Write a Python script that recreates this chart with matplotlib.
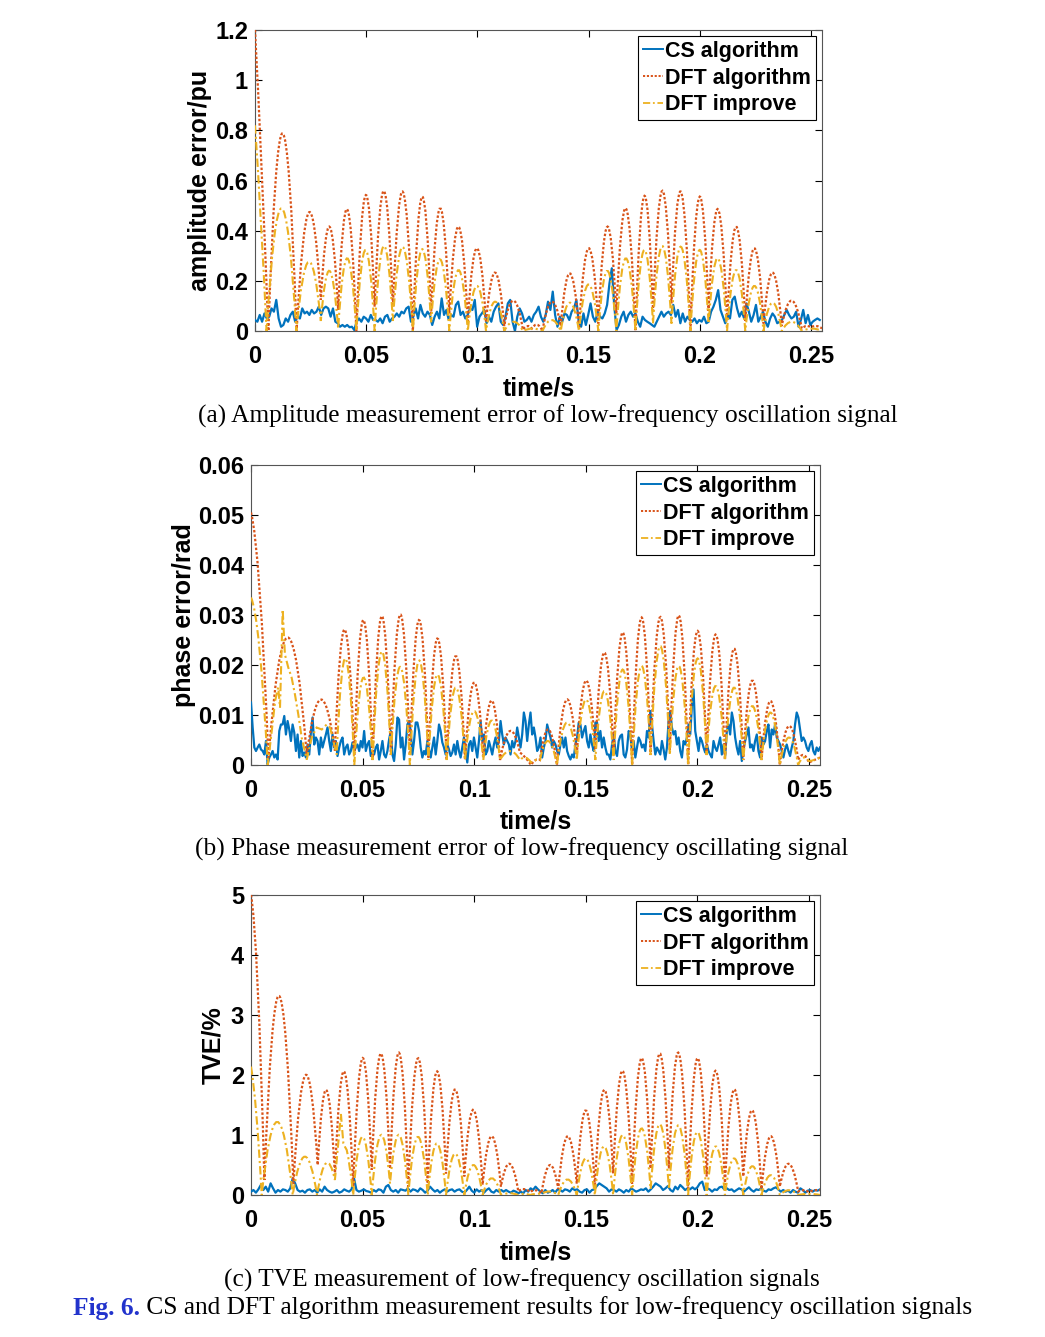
import numpy as np
import matplotlib
matplotlib.use("Agg")
import matplotlib.pyplot as plt
from matplotlib.path import Path
from matplotlib.patches import PathPatch
from matplotlib.lines import Line2D
from matplotlib.text import Annotation

plt.rcParams['font.family'] = ['Liberation Sans', 'DejaVu Sans']
plt.rcParams['font.weight'] = 'bold'

# ---------------- data ----------------
series_names = ["CS algorithm", "DFT algorithm", "DFT improve"]
x_ticks = [0, 0.05, 0.1, 0.15, 0.2, 0.25]
x_ticklabels = ["0", "0.05", "0.1", "0.15", "0.2", "0.25"]

# (a) amplitude error / pu
a_yticks = [0, 0.2, 0.4, 0.6, 0.8, 1.0, 1.2]
a_yticklabels = ["0", "0.2", "0.4", "0.6", "0.8", "1", "1.2"]
# DFT algorithm: knot times / knot values (troughs) and arch peak values between knots
a_dft_t = [0, .006, .0187, .0296, .0374, .0456, .0538, .062, .071, .0792, .0874, .0957, .1039,
           .1121, .1205, .1245, .1293, .1375, .1457, .1544, .1625, .1711, .179, .1873, .1958,
           .204, .2123, .2205, .2287, .2369, .2459, .25, .255]
a_dft_v = [1.2, 0, 0, .124, .084, 0, .097, .097, 0, .07, .07, .04, .035, .02, .005, .01, 0,
           .02, .01, .03, .07, 0, .08, .11, 0, .08, .04, .04, .03, .02, .01, .015, .01]
a_dft_pk = [.65, .788, .472, .416, .485, .541, .559, .555, .535, .489, .416, .33, .233, .121,
            .02, .025, .117, .23, .33, .416, .489, .538, .559, .555, .535, .486, .416, .33,
            .233, .121, .02, .02]
a_imp_t = [0, .0052, .0186, .0296, .0374, .0456, .0538, .062, .071, .0792, .0874, .0957, .1039,
           .1121, .1205, .1293, .1375, .1457, .1544, .1625, .1711, .179, .1873, .1958, .204,
           .2123, .2205, .2287, .2369, .2459, .255]
a_imp_v = [.82, 0, 0, .04, .01, 0, 0, .04, 0, .035, 0, 0, 0, 0, 0, 0, 0, 0, 0, 0, 0, .03, .03,
           0, .03, 0, 0, 0, 0, 0, 0]
a_imp_pk = [.45, .489, .276, .24, .29, .323, .339, .335, .326, .286, .243, .18, .117, .037, .01,
            .044, .113, .186, .24, .29, .323, .339, .336, .323, .29, .243, .18, .113, .037, .01]
a_cs = [.044, .037, .064, .037, .070, .050, .057, .090, .077, .124,
        .050, .017, .024, .050, .037, .064, .077, .037, .057, .050,
        .090, .070, .077, .064, .084, .070, .077, .097, .064, .090,
        .097, .090, .057, .090, .037, .031, .017, .024, .017, .024,
        .015, .017, .004, .037, .050, .037, .057, .050, .037, .064,
        .044, .044, .037, .050, .031, .057, .064, .037, .050, .057,
        .070, .057, .077, .070, .090, .097, .037, .057, .090, .050,
        .104, .070, .057, .077, .064, .024, .057, .077, .050, .130,
        .064, .084, .044, .064, .057, .104, .117, .064, .077, .050,
        .064, .090, .084, .124, .017, .057, .070, .084, .031, .057,
        .037, .077, .097, .110, .037, .024, .057, .110, .124, .037,
        .000, .057, .090, .070, .037, .044, .057, .037, .064, .077,
        .097,
        .057, .037, .064, .117, .084, .157, .064, .017, .057, .037,
        .070, .064, .044, .077, .090, .124, .037, .017, .070, .024,
        .064, .110, .057, .037, .077, .057, .050, .070, .104, .190,
        .250, .104, .004, .024, .057, .077, .037, .064, .077, .057,
        .070, .037, .017, .057, .044, .037, .031, .024, .017, .037,
        .057, .077, .057, .070, .077, .064, .104, .057, .084, .031,
        .070, .037, .057, .044, .037, .050, .031, .044, .037, .057,
        .031, .037, .077, .097, .124, .163, .084, .057, .031, .064,
        .050, .124, .137, .090, .057, .077, .050, .110, .077, .037,
        .064, .104, .037, .057, .077, .037, .017, .050, .070, .057,
        .031, .037, .044, .064, .084, .064, .050, .057, .077, .017,
        .044, .084, .031, .064, .024, .037, .044, .050, .044]

# (b) phase error / rad
b_yticks = [0, 0.01, 0.02, 0.03, 0.04, 0.05, 0.06]
b_yticklabels = ["0", "0.01", "0.02", "0.03", "0.04", "0.05", "0.06"]
b_dft_t = [0, .0078, .025, .0376, .0463, .0545, .0627, .0712, .0795, .0877, .0959, .1041, .1116,
           .1205, .1255, .1295, .1371, .146, .1543, .1625, .1708, .1791, .1877, .1959, .2042,
           .2124, .2206, .2288, .237, .2452, .25, .255]
b_dft_v = [.0505, .0015, .002, .0029, .002, .001, .002, .002, .0015, .001, .001, .0015, .001,
           .0025, 0, .001, 0, .002, .003, .002, 0, .002, .003, 0, .002, .001, .001, .001, 0,
           .001, .0005, .0015]
b_dft_pk = [.035, .0255, .0131, .0271, .029, .0298, .0301, .029, .0253, .0218, .0165, .0129,
            .0068, .0015, .001, .0071, .0131, .0169, .0225, .0265, .0295, .0296, .0299, .0268,
            .0261, .0233, .0169, .0128, .0078, .002, .001]
b_imp_t = [0, .0075, .0093, .0108, .0122, .013, .0142, .0152, .0167, .0182, .0197, .0212, .0227,
           .025, .0272, .0294, .0317, .0339, .0354, .0369, .0384, .0463, .0545, .0627, .0712,
           .0795, .0877, .0959, .1041, .1116, .1205, .1255, .1295, .1371, .146, .1543, .1625,
           .1708, .1791, .1877, .1959, .2042, .2124, .2206, .2288, .237, .2452, .25, .255]
b_imp_v = [.0335, 0, .0068, .0128, .0155, .0115, .0311, .0221, .0195, .0175, .0141, .0101, .0055,
           .0011, .0055, .0075, .0071, .0081, .0075, .0048, .0021, 0, .001, .002, 0, .001, .001,
           .001, .001, .001, .001, .0005, .001, 0, .001, .001, .001, 0, .002, .002, 0, .002,
           .001, .001, .001, 0, 0, .0008, .0015]
b_imp_pk = [.0235, .0034, .0098, .0142, .0135, .0213, .0266, .0208, .0185, .0158, .0121, .0078,
            .0033, .0033, .0065, .0073, .0076, .0078, .0062, .0035, .0213, .0175, .0227, .0196,
            .0209, .0181, .0155, .0108, .0089, .0028, .0015, .001, .0048, .0085, .0131, .0148,
            .0191, .0198, .0238, .0198, .0213, .0158, .0155, .0118, .0105, .0055, .0015, .001]
b_cs = [.0125, .0075, .0035, .0028, .0035, .0041, .0031, .0028, .0021, .0048,
        .0001, .0015, .0021, .0028, .0015, .0021, .0011, .0068, .0081, .0081,
        .0098, .0061, .0088, .0071, .0048, .0081, .0065, .0028, .0061, .0015,
        .0048, .0018, .0025, .0015, .0041, .0021, .0065, .0095, .0041, .0055,
        .0048, .0021, .0055, .0035, .0048, .0061, .0075, .0048, .0028, .0061,
        .0035, .0048, .0018, .0035, .0048, .0055, .0021, .0035, .0041, .0021,
        .0028, .0045, .0028, .0035, .0041, .0028, .0048, .0035, .0068, .0028,
        .0041, .0048, .0018, .0028, .0021, .0035, .0041, .0011, .0028, .0048,
        .0021, .0015, .0028, .0051, .0068, .0021, .0008, .0041, .0095, .0091,
        .0035, .0055, .0011, .0041, .0081, .0088, .0068, .0021, .0048, .0085,
        .0085, .0068, .0035, .0015, .0028, .0021, .0048, .0031, .0015, .0035,
        .0055, .0021, .0048, .0081, .0068, .0045, .0035, .0021, .0041, .0031,
        .0018, .0025, .0041, .0021, .0048, .0028, .0015, .0035, .0055, .0028,
        .0005, .0041, .0048, .0028, .0055, .0035, .0015, .0048, .0088, .0048,
        .0061, .0021, .0028, .0048, .0035, .0021, .0041, .0055, .0035, .0048,
        .0088, .0061, .0041, .0055, .0048, .0041, .0021, .0048, .0035, .0048,
        .0075, .0055, .0035, .0061, .0105, .0088, .0048, .0081, .0105, .0061,
        .0075, .0055, .0028,
        .0035, .0055, .0015, .0035, .0048, .0081, .0068, .0055, .0035, .0048,
        .0041, .0028, .0021, .0041, .0055, .0035, .0055, .0028, .0018, .0011,
        .0021, .0015, .0041, .0055, .0085, .0081, .0055, .0068, .0078, .0048,
        .0035, .0061, .0041, .0028, .0085, .0085, .0048, .0068, .0035, .0055,
        .0035, .0021, .0021, .0011, .0041, .0061, .0028, .0018, .0048, .0058,
        .0061, .0021, .0015, .0031, .0068, .0061, .0028, .0048, .0015, .0035,
        .0055, .0048, .0035, .0041, .0028, .0068, .0055, .0108, .0081, .0048,
        .0021, .0035, .0028, .0021, .0048, .0031, .0011, .0035, .0088, .0108,
        .0075, .0061, .0068, .0041, .0055, .0028, .0015, .0048, .0041, .0055,
        .0081, .0061, .0118, .0151, .0068, .0048, .0028, .0055, .0048, .0035,
        .0025, .0041, .0028, .0021, .0015, .0048, .0035, .0028, .0041, .0055,
        .0021, .0041, .0018, .0068, .0081, .0061, .0105, .0088, .0055, .0035,
        .0021, .0048, .0008, .0031, .0048, .0061, .0075, .0035, .0041, .0028,
        .0048, .0061, .0028, .0015, .0055, .0041, .0048, .0068, .0081, .0035,
        .0071, .0061, .0081, .0055, .0048, .0041, .0028, .0015, .0031, .0041,
        .0028, .0018, .0035, .0048, .0081, .0105, .0095, .0071, .0048, .0055,
        .0048, .0035, .0028, .0041, .0048, .0028, .0021, .0035, .0028, .0035]

# (c) TVE / %
c_yticks = [0, 1, 2, 3, 4, 5]
c_yticklabels = ["0", "1", "2", "3", "4", "5"]
c_dft_t = [0, .006, .019, .0299, .0376, .0458, .0541, .0623, .0705, .0792, .0874, .0956, .1038,
           .112, .1198, .125, .1302, .1377, .146, .1541, .1623, .1708, .1791, .1873, .1959,
           .2042, .2124, .2206, .2288, .237, .2452, .25, .255]
c_dft_v = [5.0, .25, .19, .5, .33, .14, .42, .44, .14, .19, .36, .31, .17, .14, .06, .05, .03,
           .1, .19, .14, .36, .19, .44, .44, .1, .31, .17, .31, .1, .14, .06, .05, .08]
c_dft_pk = [3.5, 3.32, 2.0, 1.75, 2.06, 2.28, 2.36, 2.37, 2.28, 2.06, 1.76, 1.42, .98, .52, .1,
            .08, .5, .98, 1.41, 1.75, 2.07, 2.28, 2.36, 2.37, 2.28, 2.07, 1.76, 1.41, .98, .52,
            .08, .08]
c_imp_t = [0, .0048, .0187, .0296, .0376, .0403, .0414, .0429, .0458, .0541, .0623, .0705, .0792,
           .0874, .0956, .1038, .112, .1198, .125, .1302, .1377, .146, .1541, .1623, .1708,
           .1791, .1873, .1959, .2042, .2124, .2206, .2288, .237, .2452, .255]
c_imp_v = [2.14, 0, 0, 0, .25, 1.35, .86, .75, 0, 0, .19, 0, 0, 0, 0, 0, 0, 0, 0, .02, 0, 0, 0,
           0, 0, .1, .1, 0, 0, 0, 0, 0, 0, 0, 0]
c_imp_pk = [1.35, 1.22, .64, .53, .8, 1.1, .8, .45, .97, 1.0, 1.0, .97, .86, .69, .5, .28, .03,
            .02, .02, .06, .26, .61, .81, 1.0, 1.11, 1.18, 1.16, 1.05, .81, .61, .48, .33, .08,
            .02]
c_cs = [.056, .083, .039, .094, .167, .083, .139, .056, .194, .111,
        .039, .083, .056, .094, .083, .056, .111, .278, .194, .083,
        .056, .072, .039, .083, .094, .056, .083, .039, .094, .056,
        .139, .083, .056, .039, .056, .083, .039, .056, .094, .072,
        .056, .094, .278, .083, .056, .072, .094, .067, .056, .039,
        .083, .056, .094, .083, .039, .139, .167, .083, .056, .083,
        .039, .094, .083, .072, .111, .056, .094, .083, .056, .111,
        .083, .039, .072, .139, .094, .056, .083, .039, .072, .094,
        .056, .083, .094, .056, .083, .094, .056, .039, .083, .139,
        .072, .039, .094, .056, .083, .039, .083, .111, .056, .039,
        .083, .056, .083, .056, .083, .056, .039, .072, .056, .028,
        .056, .028, .083, .056, .111, .083, .139, .094,
        .056, .028, .083, .039, .056, .083, .039, .094, .083, .056,
        .094, .083, .056, .111, .083, .094, .056, .039, .083, .094,
        .039, .083, .094, .150, .194, .167, .139, .111, .056, .094,
        .083, .056, .094, .072, .039, .083, .056, .111, .083, .056,
        .072, .094, .083, .111, .056, .094, .139, .194, .167, .139,
        .083, .111, .150, .083, .056, .139, .094, .167, .128, .083,
        .111, .094, .128, .094, .128, .194, .222, .083, .111, .094,
        .056, .094, .083, .128, .139, .094, .111, .083, .094, .056,
        .083, .111, .094, .056, .094, .128, .083, .056, .094, .083,
        .111, .072, .056, .094, .083, .111, .128, .094, .056, .083,
        .056, .072, .039, .083, .056, .039, .111, .083, .039, .072,
        .083, .056, .083, .072, .094]

# ---------------- styling ----------------
blue = '#0072BD'
red = '#D95319'
yellow = '#EDB120'
red_ls = (0, (1.1, 0.9))
yel_ls = (0, (4.0, 1.5, 1.0, 1.5))
W, H = 1045, 1337


def arch_line(ax, t, v, pk, **kw):
    # quadratic curve between knots, passing through pk at the midpoint
    verts = [(t[0], v[0])]
    codes = [Path.MOVETO]
    for i in range(len(pk)):
        tm = (t[i] + t[i + 1]) / 2
        c = 2 * pk[i] - (v[i] + v[i + 1]) / 2
        verts += [(tm, c), (t[i + 1], v[i + 1])]
        codes += [Path.CURVE3, Path.CURVE3]
    ax.add_patch(PathPatch(Path(verts, codes), fill=False, **kw))


fig = plt.figure(figsize=(W / 100, H / 100), dpi=100)

panels = [
    dict(box=(255, 30, 822, 331), cs=a_cs, cs_end=.254,
         dft=(a_dft_t, a_dft_v, a_dft_pk), imp=(a_imp_t, a_imp_v, a_imp_pk),
         yt=a_yticks, ytl=a_yticklabels, ylim=1.2, ylabel='amplitude error/pu', ylx=-0.076,
         cap='(a) Amplitude measurement error of low-frequency oscillation signal', cap_xy=(548, 416)),
    dict(box=(251, 465, 820, 765), cs=b_cs, cs_end=.255,
         dft=(b_dft_t, b_dft_v, b_dft_pk), imp=(b_imp_t, b_imp_v, b_imp_pk),
         yt=b_yticks, ytl=b_yticklabels, ylim=0.06, ylabel='phase error/rad', ylx=-0.097,
         cap='(b) Phase measurement error of low-frequency oscillating signal', cap_xy=(522, 849)),
    dict(box=(251, 895, 820, 1195), cs=c_cs, cs_end=.255,
         dft=(c_dft_t, c_dft_v, c_dft_pk), imp=(c_imp_t, c_imp_v, c_imp_pk),
         yt=c_yticks, ytl=c_yticklabels, ylim=5, ylabel='TVE/%', ylx=-0.046,
         cap='(c) TVE measurement of low-frequency oscillation signals', cap_xy=(522, 1280)),
]

for p in panels:
    l, t, r, b = p['box']
    ax = fig.add_axes([l / W, 1 - b / H, (r - l) / W, (b - t) / H])
    cs_t = np.linspace(0, p['cs_end'], len(p['cs']))
    ax.plot(cs_t, p['cs'], color=blue, lw=1.6, zorder=3)
    arch_line(ax, *p['dft'], edgecolor=red, lw=1.6, linestyle=red_ls, zorder=4)
    arch_line(ax, *p['imp'], edgecolor=yellow, lw=1.5, linestyle=yel_ls, zorder=5)

    ax.set_xlim(0, 0.255)
    ax.set_ylim(0, p['ylim'])
    ax.set_xticks(x_ticks)
    ax.set_xticklabels(x_ticklabels)
    ax.set_yticks(p['yt'])
    ax.set_yticklabels(p['ytl'])
    ax.tick_params(direction='in', top=True, right=True, length=5, width=0.8,
                   labelsize=17, colors='#000000')
    ax.tick_params(axis='x', pad=10)
    ax.tick_params(axis='y', pad=5)
    for s in ax.spines.values():
        s.set_color('#555555')
        s.set_linewidth(0.8)

    ax.set_xlabel('time/s', fontsize=18, fontweight='bold', va='top')
    ax.xaxis.set_label_coords(0.5, -0.15)
    ax.set_ylabel(p['ylabel'], fontsize=18, fontweight='bold')
    ax.yaxis.set_label_coords(p['ylx'], 0.5)

    handles = [Line2D([], [], color=blue, lw=1.4),
               Line2D([], [], color=red, lw=1.4, ls=red_ls),
               Line2D([], [], color=yellow, lw=1.3, ls=yel_ls)]
    leg = ax.legend(handles, series_names, loc='upper right', fancybox=False,
                    edgecolor='black', framealpha=1, borderpad=0.2, labelspacing=0.27,
                    handlelength=0.95, handletextpad=0.1, borderaxespad=0.3,
                    prop=dict(family='Liberation Sans', weight='bold', size=15.5))
    leg.get_frame().set_linewidth(0.8)

    cx, cy = p['cap_xy']
    fig.text(cx / W, 1 - cy / H, p['cap'], ha='center', va='center',
             family='Liberation Serif', weight='normal', fontsize=18.3)

# figure caption: bold blue label + plain text
lab = fig.text(73 / W, 1 - 1308 / H, 'Fig. 6.', ha='left', va='center', color='#2233CC',
               family='Liberation Serif', weight='bold', fontsize=18.3)
rest = Annotation(' CS and DFT algorithm measurement results for low-frequency oscillation signals',
                  xy=(1, 0.5), xycoords=lab, va='center', ha='left',
                  family='Liberation Serif', weight='normal', fontsize=18.3)
fig.add_artist(rest)

fig.savefig('out.png', dpi=100)
